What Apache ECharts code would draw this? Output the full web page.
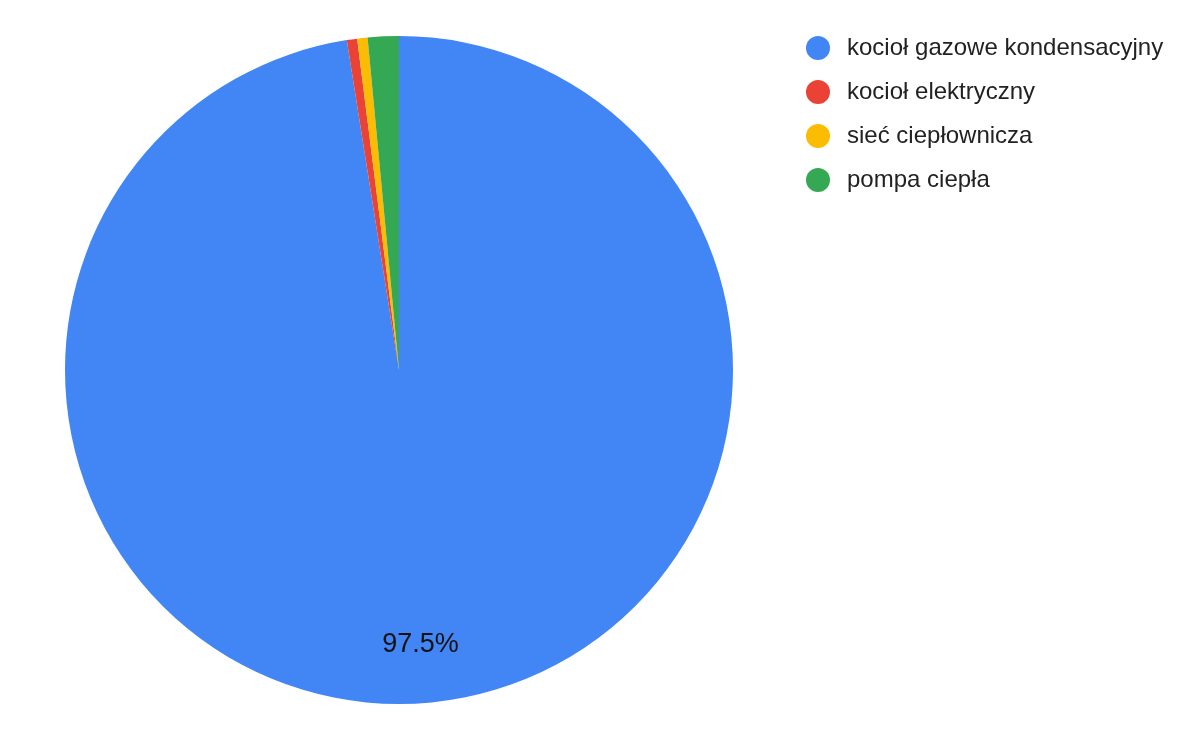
<!DOCTYPE html>
<html>
<head>
<meta charset="utf-8">
<script src="https://cdn.jsdelivr.net/npm/echarts@6/dist/echarts.min.js"></script>
<style>html,body{margin:0;padding:0;background:#fff}#c{width:1200px;height:742px}</style>
</head>
<body>
<div id="c"></div>
<script>
const categories = ['kocioł gazowe kondensacyjny', 'kocioł elektryczny', 'sieć ciepłownicza', 'pompa ciepła'];
const values = [97.5, 0.5, 0.5, 1.5];
const colors = ['#4285F4', '#EA4335', '#FBBC04', '#34A853'];

const data = categories.map((n, i) => ({ name: n, value: values[i] }));
const total = values.reduce((a, b) => a + b, 0);
const FONT = "'Liberation Sans', Arial, sans-serif";

const chart = echarts.init(document.getElementById('c'));
chart.setOption({
  animation: false,
  color: colors,
  textStyle: { fontFamily: FONT },
  legend: {
    orient: 'vertical',
    left: 801,
    top: 31,
    icon: 'circle',
    itemWidth: 24,
    itemHeight: 24,
    itemGap: 20,
    data: categories,
    textStyle: { fontSize: 24, color: '#222222', padding: [0, 0, 0, 12], fontFamily: FONT, lineHeight: 24 }
  },
  series: [
    {
      type: 'pie',
      center: [399, 370],
      radius: [0, 334],
      startAngle: 90,
      clockwise: true,
      data: data,
      label: { show: false },
      labelLine: { show: false },
      emphasis: { disabled: true }
    },
    {
      type: 'pie',
      center: [399, 370],
      radius: [210, 334],
      startAngle: 90,
      clockwise: true,
      silent: true,
      data: data.map(d => ({ name: d.name, value: d.value, itemStyle: { color: 'rgba(0,0,0,0)' } })),
      label: {
        position: 'inside',
        fontSize: 27,
        color: '#111111',
        fontFamily: FONT,
        formatter: p => (p.value / total * 100 >= 5 ? (p.value / total * 100).toFixed(1) + '%' : '')
      },
      labelLine: { show: false },
      emphasis: { disabled: true }
    }
  ]
});
</script>
</body>
</html>
